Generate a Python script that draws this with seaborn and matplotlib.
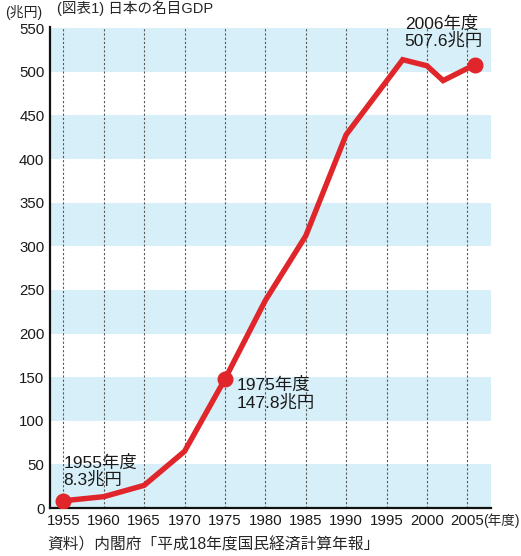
import matplotlib
matplotlib.use("Agg")
import matplotlib.pyplot as plt
import seaborn as sns
import pandas as pd

# Nominal GDP of Japan by fiscal year (trillion yen)
years = [1955, 1960, 1965, 1970, 1975, 1980, 1985, 1990, 1997, 2000, 2002, 2005, 2006]
gdp = [8.3, 13.0, 26.0, 65.0, 147.8, 238.0, 312.0, 428.0, 514.0, 507.0, 490.0, 504.0, 507.6]

tick_years = [1955, 1960, 1965, 1970, 1975, 1980, 1985, 1990, 1995, 2000, 2005]
tick_values = [0, 50, 100, 150, 200, 250, 300, 350, 400, 450, 500, 550]
band_ranges = [(0, 50), (100, 150), (200, 250), (300, 350), (400, 450), (500, 550)]

callouts = [
    (1955, 8.3, "1955年度\n8.3兆円"),
    (1975, 147.8, "1975年度\n147.8兆円"),
    (2006, 507.6, "2006年度\n507.6兆円"),
]

df = pd.DataFrame({"year": years, "gdp": gdp})

sns.set_theme(style="white")
plt.rcParams["font.family"] = ["Liberation Sans", "Noto Sans CJK JP", "DejaVu Sans"]

RED = "#e0262b"
BAND = "#d6eff8"

fig = plt.figure(figsize=(5.21, 5.56), dpi=100)
ax = fig.add_axes([0.096, 0.0863, 0.846, 0.866])

xmin, xmax = 1953.35, 2007.9
ax.set_xlim(xmin, xmax)
ax.set_ylim(0, 552)

# alternating horizontal bands
for lo, hi in band_ranges:
    ax.axhspan(lo, hi, color=BAND, lw=0, zorder=0)

# dashed year guides
for yr in tick_years:
    ax.axvline(yr, color="#5a5a5a", lw=0.8, ls=(0, (2.0, 1.8)), zorder=1)

sns.lineplot(data=df, x="year", y="gdp", color=RED, lw=3.9, ax=ax, zorder=3,
             solid_joinstyle="miter")

mark = df[df["year"].isin([c[0] for c in callouts])]
ax.plot(mark["year"], mark["gdp"], "o", color=RED, ms=10.5, zorder=4)

# callout labels
label_kw = dict(fontsize=12.5, ha="left", va="top", linespacing=1.05, zorder=5,
                color="#1a1a1a")
ax.text(1955.0, 61, callouts[0][2], **label_kw)
ax.text(1976.5, 150, callouts[1][2], **label_kw)
ax.text(1997.25, 564, callouts[2][2], clip_on=False, **label_kw)

ax.set_xticks(tick_years)
ax.set_xticklabels([str(y) for y in tick_years], fontsize=10.8)
ax.set_yticks(tick_values)
ax.set_yticklabels([str(v) for v in tick_values], fontsize=10.8)
ax.tick_params(axis="both", length=0, colors="#1a1a1a")
ax.tick_params(axis="x", pad=4)
ax.tick_params(axis="y", pad=4)
ax.set_xlabel("")
ax.set_ylabel("")

for side in ["top", "right"]:
    ax.spines[side].set_visible(False)
for side in ["left", "bottom"]:
    ax.spines[side].set_color("#111111")
    ax.spines[side].set_linewidth(1.6)
ax.grid(False)
ax.set_facecolor("white")

# unit labels and titles
fig.text(5 / 521, 1 - 12 / 556, "(兆円)", fontsize=10, ha="left", va="center")
fig.text(483 / 521, 1 - 521 / 556, "(年度)", fontsize=9.8, ha="left", va="center")
fig.text(47 / 521, 1 - 545 / 556, "資料）内閣府「平成18年度国民経済計算年報」",
         fontsize=11.3, ha="left", va="center")
fig.text(57 / 521, 1 - 1 / 556, "(図表1) 日本の名目GDP", fontsize=10.5,
         ha="left", va="top")

fig.savefig("out.png", dpi=100)
